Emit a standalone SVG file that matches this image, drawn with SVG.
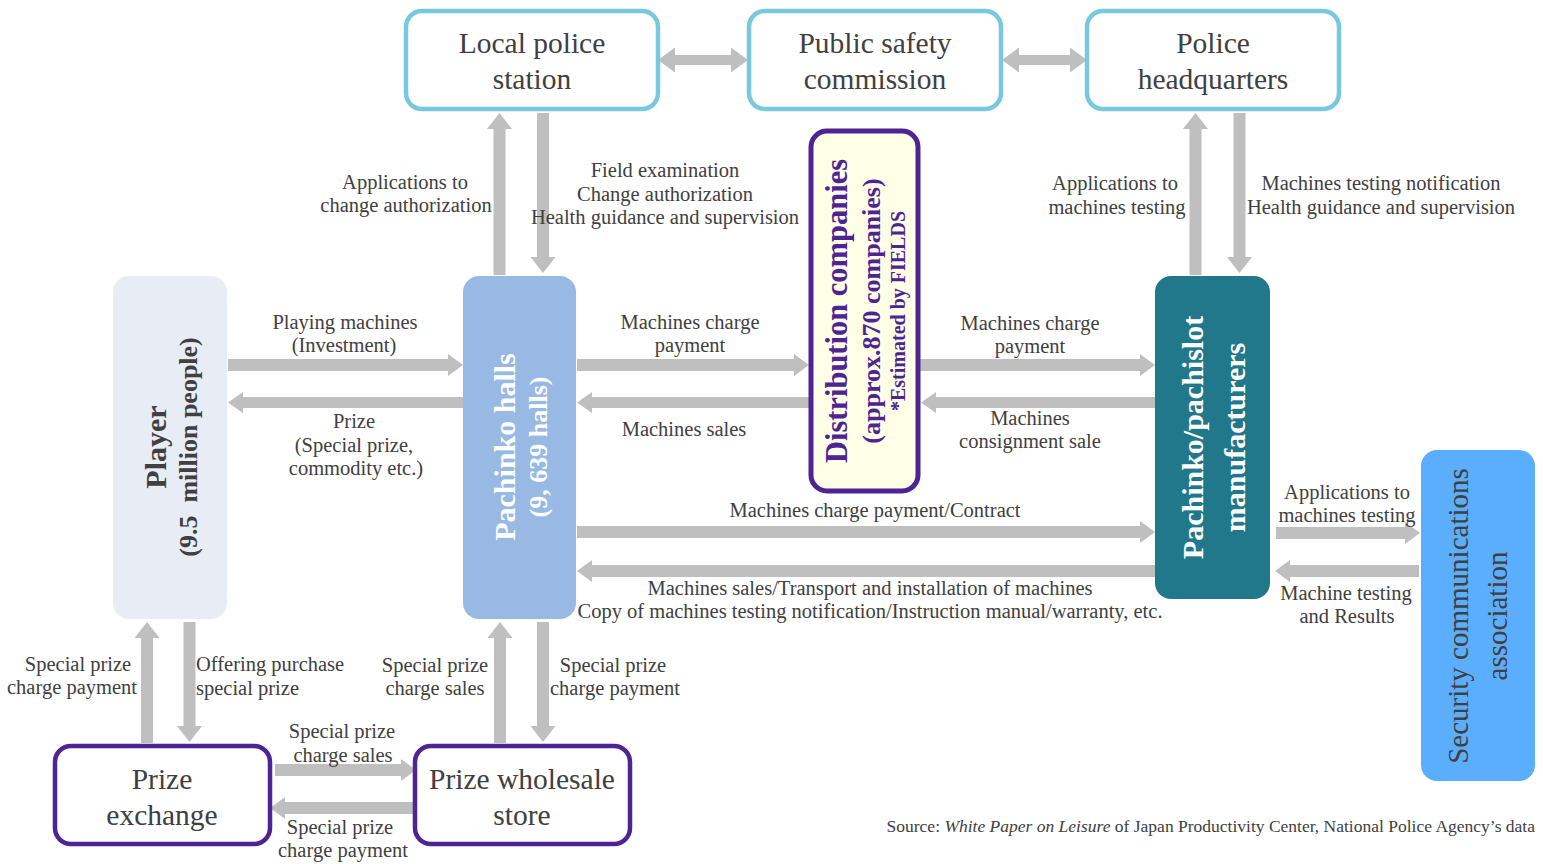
<svg xmlns="http://www.w3.org/2000/svg" width="1543" height="864" viewBox="0 0 1543 864">
<style>
.lbl{font-family:"Liberation Serif","Times New Roman",serif;font-size:20.5px;fill:#404040;text-anchor:middle}
.ttl{font-family:"Liberation Serif","Times New Roman",serif;font-size:29.5px;fill:#404040;text-anchor:middle}
.vt{font-family:"Liberation Serif","Times New Roman",serif;text-anchor:middle}
.arr{fill:#BFBFBF}
.police{fill:#FFFFFF;stroke:#78C8DE;stroke-width:4.5}
.prize{fill:#FFFFFF;stroke:#4E2393;stroke-width:4.5}
</style>
<rect width="1543" height="864" fill="#FFFFFF"/>
<g id="connectors">
<path class="arr" d="M658,60 L675,47.5 V55 H731 V47.5 L748,60 L731,72.5 V65 H675 V72.5 Z"/>
<path class="arr" d="M1002,60 L1019,47.5 V55 H1070 V47.5 L1087,60 L1070,72.5 V65 H1019 V72.5 Z"/>
<path class="arr" d="M493.5,275 V129 H487 L499.5,113 L512,129 H505.5 V275 Z"/>
<path class="arr" d="M537,113 V257 H530.5 L543,273 L555.5,257 H549 V113 Z"/>
<path class="arr" d="M1189.5,275 V129 H1183 L1195.5,113 L1208,129 H1201.5 V275 Z"/>
<path class="arr" d="M1233.5,113 V257 H1227 L1239.5,273 L1252,257 H1245.5 V113 Z"/>
<path class="arr" d="M228,359 H448 V354 L463,365 L448,376 V371 H228 Z"/>
<path class="arr" d="M463,397 H243 V392 L228,402.5 L243,413 V408 H463 Z"/>
<path class="arr" d="M577,359 H794 V354 L809,365 L794,376 V371 H577 Z"/>
<path class="arr" d="M809,397 H592 V392 L577,402.5 L592,413 V408 H809 Z"/>
<path class="arr" d="M920,359 H1140 V354 L1155,365 L1140,376 V371 H920 Z"/>
<path class="arr" d="M1155,397 H936 V392 L921,402.5 L936,413 V408 H1155 Z"/>
<path class="arr" d="M577,526 H1140 V521 L1155,532 L1140,543 V538 H577 Z"/>
<path class="arr" d="M1155,565 H592 V560 L577,571 L592,582 V577 H1155 Z"/>
<path class="arr" d="M1276,527 H1405 V522 L1420,533 L1405,544 V539 H1276 Z"/>
<path class="arr" d="M1419,565 H1290 V560 L1275,571 L1290,582 V577 H1419 Z"/>
<path class="arr" d="M141,743 V638 H134.5 L147,622 L159.5,638 H153 V743 Z"/>
<path class="arr" d="M183.5,622 V726 H177 L189.5,742 L202,726 H195.5 V622 Z"/>
<path class="arr" d="M494,743 V638 H487.5 L500,622 L512.5,638 H506 V743 Z"/>
<path class="arr" d="M537,622 V726 H530.5 L543,742 L555.5,726 H549 V622 Z"/>
<path class="arr" d="M275,764 H401 V759 L416,770 L401,781 V776 H275 Z"/>
<path class="arr" d="M413,802 H285 V797 L270,808 L285,819 V814 H413 Z"/>
</g>

<g id="local-police-station">
<rect class="police" x="406" y="11" width="252" height="98" rx="16"/>
<text class="ttl" x="532" y="53">Local police</text>
<text class="ttl" x="532" y="89">station</text>
</g>
<g id="public-safety-commission">
<rect class="police" x="749" y="11" width="252" height="98" rx="16"/>
<text class="ttl" x="875" y="53">Public safety</text>
<text class="ttl" x="875" y="89">commission</text>
</g>
<g id="police-headquarters">
<rect class="police" x="1087" y="11" width="252" height="98" rx="16"/>
<text class="ttl" x="1213" y="53">Police</text>
<text class="ttl" x="1213" y="89">headquarters</text>
</g>

<g id="distribution-companies">
<rect x="811" y="131" width="107" height="360" rx="16" fill="#FFFFE8" stroke="#4E2393" stroke-width="5"/>
<text class="vt" transform="translate(847,311) rotate(-90)" font-size="30.5" font-weight="bold" fill="#4E2393">Distribution companies</text>
<text class="vt" transform="translate(880,311) rotate(-90)" font-size="26" font-weight="bold" fill="#4E2393">(approx.870 companies)</text>
<text class="vt" transform="translate(905,311) rotate(-90)" font-size="20" font-weight="bold" fill="#4E2393">*Estimated by FIELDS</text>
</g>

<g id="player">
<rect x="113" y="276" width="114" height="343" rx="16" fill="#E8EDF5"/>
<text class="vt" transform="translate(166,447) rotate(-90)" font-size="30" font-weight="bold" fill="#404040">Player</text>
<text class="vt" transform="translate(197,447) rotate(-90)" font-size="26" font-weight="bold" fill="#404040" style="white-space:pre">(9.5  million people)</text>
</g>

<g id="pachinko-halls">
<rect x="463" y="276" width="113" height="343" rx="16" fill="#98B9E3"/>
<text class="vt" transform="translate(515,447) rotate(-90)" font-size="30" font-weight="bold" fill="#FFFFFF">Pachinko halls</text>
<text class="vt" transform="translate(547,447) rotate(-90)" font-size="26" font-weight="bold" fill="#FFFFFF">(9, 639 halls)</text>
</g>

<g id="manufacturers">
<rect x="1155" y="276" width="115" height="323" rx="16" fill="#21788A"/>
<text class="vt" transform="translate(1203,437.5) rotate(-90)" font-size="30" font-weight="bold" fill="#FFFFFF">Pachinko/pachislot</text>
<text class="vt" transform="translate(1245,437.5) rotate(-90)" font-size="30" font-weight="bold" fill="#FFFFFF">manufacturers</text>
</g>

<g id="security-communications-association">
<rect x="1421" y="450" width="114" height="331" rx="16" fill="#5BAEFD"/>
<text class="vt" transform="translate(1468,616) rotate(-90)" font-size="29" fill="#404040">Security communications</text>
<text class="vt" transform="translate(1507,616) rotate(-90)" font-size="29" fill="#404040">association</text>
</g>

<g id="prize-exchange">
<rect class="prize" x="55" y="746" width="215" height="98" rx="16"/>
<text class="ttl" x="162" y="789">Prize</text>
<text class="ttl" x="162" y="825">exchange</text>
</g>
<g id="prize-wholesale-store">
<rect class="prize" x="415" y="746" width="215" height="98" rx="16"/>
<text class="ttl" x="522" y="789">Prize wholesale</text>
<text class="ttl" x="522" y="825">store</text>
</g>

<g id="labels">
<text class="lbl" x="405" y="189">Applications to</text>
<text class="lbl" x="406" y="212">change authorization</text>
<text class="lbl" x="665" y="177">Field examination</text>
<text class="lbl" x="665" y="201">Change authorization</text>
<text class="lbl" x="665" y="224">Health guidance and supervision</text>
<text class="lbl" x="1115" y="190">Applications to</text>
<text class="lbl" x="1117" y="214">machines testing</text>
<text class="lbl" x="1381" y="190">Machines testing notification</text>
<text class="lbl" x="1381" y="214">Health guidance and supervision</text>
<text class="lbl" x="345" y="329">Playing machines</text>
<text class="lbl" x="344" y="352">(Investment)</text>
<text class="lbl" x="354" y="428">Prize</text>
<text class="lbl" x="354" y="452">(Special prize,</text>
<text class="lbl" x="356" y="475">commodity etc.)</text>
<text class="lbl" x="690" y="329">Machines charge</text>
<text class="lbl" x="690" y="352">payment</text>
<text class="lbl" x="684" y="436">Machines sales</text>
<text class="lbl" x="1030" y="330">Machines charge</text>
<text class="lbl" x="1030" y="353">payment</text>
<text class="lbl" x="1030" y="425">Machines</text>
<text class="lbl" x="1030" y="448">consignment sale</text>
<text class="lbl" x="875" y="517">Machines charge payment/Contract</text>
<text class="lbl" x="870" y="595">Machines sales/Transport and installation of machines</text>
<text class="lbl" x="870" y="618">Copy of machines testing notification/Instruction manual/warranty, etc.</text>
<text class="lbl" x="1347" y="499">Applications to</text>
<text class="lbl" x="1347" y="522">machines testing</text>
<text class="lbl" x="1346" y="600">Machine testing</text>
<text class="lbl" x="1347" y="623">and Results</text>
<text class="lbl" x="78" y="671">Special prize</text>
<text class="lbl" x="72" y="694">charge payment</text>
<text class="lbl" x="196" y="671" style="text-anchor:start">Offering purchase</text>
<text class="lbl" x="196" y="695" style="text-anchor:start">special prize</text>
<text class="lbl" x="435" y="672">Special prize</text>
<text class="lbl" x="435" y="695">charge sales</text>
<text class="lbl" x="613" y="672">Special prize</text>
<text class="lbl" x="615" y="695">charge payment</text>
<text class="lbl" x="342" y="738">Special prize</text>
<text class="lbl" x="343" y="762">charge sales</text>
<text class="lbl" x="340" y="834">Special prize</text>
<text class="lbl" x="343" y="857">charge payment</text>
<text x="1535" y="832" font-family="Liberation Serif, serif" font-size="17.5" fill="#404040" text-anchor="end">Source: <tspan font-style="italic">White Paper on Leisure</tspan> of Japan Productivity Center, National Police Agency’s data</text>
</g>
</svg>
